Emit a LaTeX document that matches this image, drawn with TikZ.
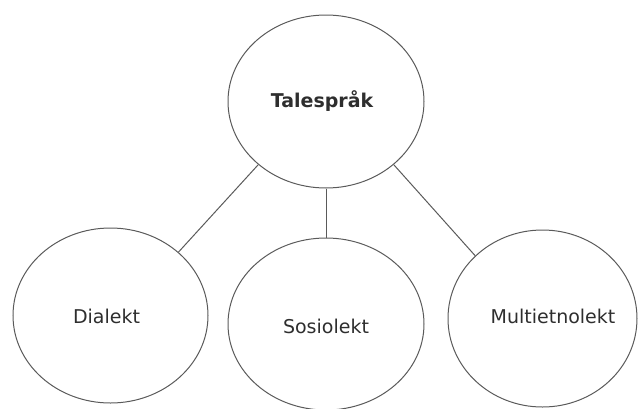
\documentclass[tikz,border=0pt]{standalone}
\usepackage{fontspec}
\setmainfont{DejaVu Sans}
\usetikzlibrary{shapes.geometric}
\definecolor{linegray}{HTML}{5A5A5A}
\definecolor{textgray}{HTML}{2E2E2E}
\begin{document}
\begin{tikzpicture}[x=1pt,y=-1pt,
  bubble/.style={draw=linegray,line width=1pt,ellipse,inner sep=0pt,minimum width=#1},
  lbl/.style={anchor=base,text=textgray,inner sep=0pt,font=\fontsize{19}{22}\selectfont},
  link/.style={draw=linegray,line width=1pt}]
\useasboundingbox (0,0) rectangle (638,408);
\node[bubble=196pt,minimum height=173pt] (top) at (326,101.5) {};
\node[bubble=195pt,minimum height=175pt] (left) at (110.5,315.5) {};
\node[bubble=196pt,minimum height=172pt] (mid) at (326,324) {};
\node[bubble=189pt,minimum height=177pt] (right) at (542.5,318.5) {};
\node[lbl,font=\fontsize{19}{22}\selectfont\bfseries] (ttop) at (322,107) {Talespråk};
\node[lbl] (tleft) at (106.5,323) {Dialekt};
\node[lbl] (tmid) at (326,333) {Sosiolekt};
\node[lbl] (tright) at (553,323) {Multietnolekt};
\draw[link] (top.223) -- (left.43);
\draw[link] (top.south) -- (mid.north);
\draw[link] (top.317) -- (right.137);
\end{tikzpicture}
\end{document}
